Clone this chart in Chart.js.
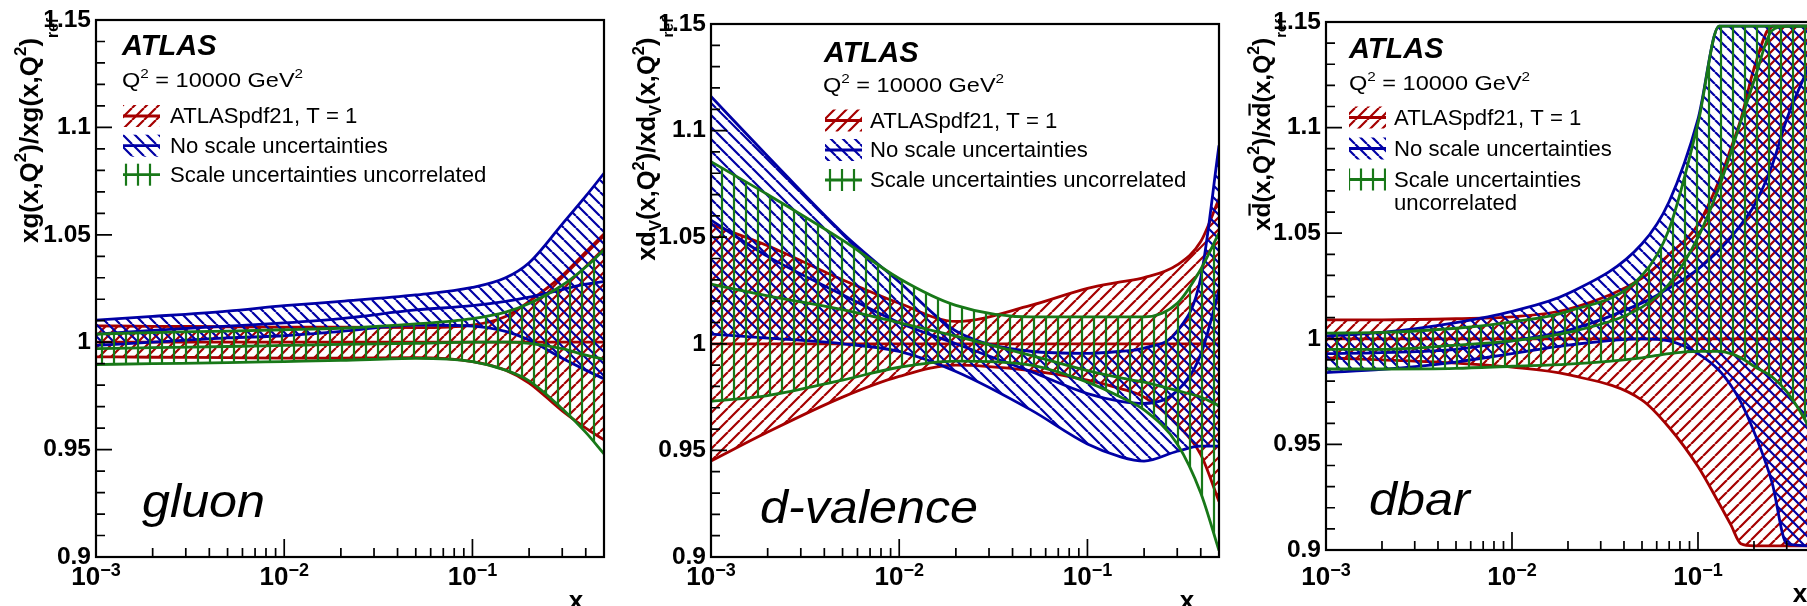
<!DOCTYPE html>
<html>
<head>
<meta charset="utf-8">
<title>ATLASpdf21 scale uncertainties</title>
<script src="https://cdn.jsdelivr.net/npm/chart.js@4.4.1/dist/chart.umd.min.js"></script>
<style>
  html, body { margin: 0; padding: 0; background: #fff; }
  body { position: relative; width: 1807px; height: 606px; overflow: hidden; }
  canvas { position: absolute; top: 0; }
</style>
</head>
<body>
<canvas id="gluon" width="640" height="606" style="left:0px"></canvas>
<canvas id="dval" width="620" height="606" style="left:620px"></canvas>
<canvas id="dbar" width="600" height="606" style="left:1235px"></canvas>
<script>
// x grids (log scale)
const xGrid = [0.001, 0.002, 0.005, 0.01, 0.02, 0.05, 0.1, 0.15, 0.2, 0.3, 0.4, 0.5];
const xGridDbar = [0.001, 0.002, 0.005, 0.01, 0.02, 0.05, 0.07, 0.1, 0.13, 0.15, 0.17, 0.2, 0.25, 0.3, 0.4, 0.5];

// gluon: ratio to reference
const gluonPdfUp      = [1.0076, 1.0074, 1.0072, 1.0070, 1.0070, 1.0068, 1.0080, 1.0120, 1.0190, 1.0310, 1.0420, 1.0504];
const gluonPdfCen     = [1, 1, 1, 1, 1, 1, 1, 1, 1, 1, 1, 1];
const gluonPdfDn      = [0.9932, 0.9930, 0.9928, 0.9926, 0.9926, 0.9928, 0.9910, 0.9870, 0.9810, 0.9680, 0.9600, 0.9545];
const gluonNoScaleUp  = [1.0103, 1.0120, 1.0145, 1.0170, 1.0190, 1.0220, 1.0255, 1.0300, 1.0370, 1.0550, 1.0680, 1.0786];
const gluonNoScaleCen = [1.0038, 1.0055, 1.0075, 1.0090, 1.0110, 1.0150, 1.0170, 1.0190, 1.0210, 1.0245, 1.0270, 1.0282];
const gluonNoScaleDn  = [0.9985, 1.0000, 1.0020, 1.0030, 1.0050, 1.0080, 1.0075, 1.0050, 1.0010, 0.9925, 0.9870, 0.9830];
const gluonUncorrUp   = [1.0038, 1.0045, 1.0052, 1.0058, 1.0065, 1.0085, 1.0110, 1.0140, 1.0180, 1.0265, 1.0350, 1.0430];
const gluonUncorrCen  = [0.9970, 0.9975, 0.9980, 0.9985, 0.9990, 0.9995, 1.0000, 1.0000, 0.9995, 0.9970, 0.9940, 0.9920];
const gluonUncorrDn   = [0.9896, 0.9900, 0.9905, 0.9910, 0.9915, 0.9925, 0.9910, 0.9870, 0.9820, 0.9690, 0.9580, 0.9480];

// d-valence
const dvPdfUp      = [1.056, 1.046, 1.030, 1.019, 1.0105, 1.018, 1.026, 1.029, 1.031, 1.037, 1.048, 1.068];
const dvPdfCen     = [1, 1, 1, 1, 1, 1, 1, 1, 1, 1, 1, 1];
const dvPdfDn      = [0.945, 0.9586, 0.975, 0.9847, 0.990, 0.9874, 0.983, 0.979, 0.975, 0.962, 0.948, 0.926];
const dvNoScaleUp  = [1.116, 1.088, 1.052, 1.029, 1.006, 0.9965, 0.9955, 0.9965, 0.998, 1.006, 1.031, 1.093];
const dvNoScaleCen = [1.058, 1.041, 1.023, 1.0099, 1.000, 0.987, 0.9766, 0.973, 0.972, 0.978, 0.995, 1.025];
const dvNoScaleDn  = [1.0045, 1.0027, 1.000, 0.9964, 0.987, 0.969, 0.953, 0.947, 0.945, 0.9496, 0.952, 0.952];
const dvUncorrUp   = [1.0854, 1.070, 1.0486, 1.0306, 1.018, 1.0126, 1.0126, 1.0126, 1.0126, 1.019, 1.035, 1.052];
const dvUncorrCen  = [1.028, 1.0225, 1.016, 1.0099, 1.0036, 0.9946, 0.9874, 0.984, 0.982, 0.978, 0.975, 0.971];
const dvUncorrDn   = [0.973, 0.9757, 0.983, 0.989, 0.9919, 0.990, 0.982, 0.975, 0.969, 0.953, 0.930, 0.903];

// dbar (bands are cut at the frame in the original)
const dbPdfUp      = [1.009, 1.009, 1.0095, 1.0104, 1.014, 1.0287, 1.040, 1.054, 1.075, 1.090, 1.104, 1.128, 1.148, 1.148, 1.148, 1.148];
const dbPdfCen     = [1, 1, 1, 1, 1, 1, 1, 1, 1, 1, 1, 1, 1, 1, 1, 1];
const dbPdfDn      = [0.991, 0.990, 0.9885, 0.9866, 0.983, 0.971, 0.958, 0.9395, 0.922, 0.912, 0.903, 0.902, 0.902, 0.902, 0.902, 0.902];
const dbNoScaleUp  = [1.0013, 1.003, 1.0077, 1.013, 1.0214, 1.045, 1.065, 1.104, 1.148, 1.148, 1.148, 1.148, 1.148, 1.148, 1.148, 1.148];
const dbNoScaleCen = [0.993, 0.9935, 0.995, 0.999, 1.004, 1.017, 1.024, 1.033, 1.042, 1.048, 1.054, 1.063, 1.082, 1.104, 1.130, 1.148];
const dbNoScaleDn  = [0.984, 0.9855, 0.989, 0.993, 0.997, 1.000, 0.999, 0.993, 0.985, 0.978, 0.970, 0.956, 0.932, 0.903, 0.902, 0.902];
const dbUncorrUp   = [1.0027, 1.003, 1.005, 1.008, 1.013, 1.030, 1.052, 1.102, 1.148, 1.148, 1.148, 1.148, 1.148, 1.148, 1.148, 1.148];
const dbUncorrCen  = [0.995, 0.995, 0.997, 0.999, 1.003, 1.015, 1.026, 1.048, 1.072, 1.088, 1.103, 1.122, 1.146, 1.148, 1.148, 1.148];
const dbUncorrDn   = [0.9857, 0.9857, 0.986, 0.987, 0.988, 0.991, 0.993, 0.994, 0.994, 0.993, 0.991, 0.987, 0.982, 0.975, 0.957, 0.935];

// axes
const yTicks = [0.9, 0.95, 1, 1.05, 1.1, 1.15];
const yTickLabels = ['0.9', '0.95', '1', '1.05', '1.1', '1.15'];
const xDecades = [0.001, 0.01, 0.1];
const xDecadeExps = ['\u22123', '\u22122', '\u22121'];
const legendLabels = ['ATLASpdf21, T = 1', 'No scale uncertainties', 'Scale uncertainties uncorrelated'];

const FONT = '"Liberation Sans", Arial, Helvetica, sans-serif';
const RED = '#a50000', BLUE = '#0000a5', GREEN = '#187818';

// ROOT-like hatch fill
function hatch(ctx, color, kind) {
  const s = 12;
  const tile = document.createElement('canvas');
  tile.width = s; tile.height = s;
  const g = tile.getContext('2d');
  g.strokeStyle = color;
  g.lineWidth = 2.2;
  g.beginPath();
  if (kind === '|') {
    g.moveTo(s / 2, 0); g.lineTo(s / 2, s);
  } else {
    for (let k = -1; k <= 1; k++) {
      if (kind === '/') { g.moveTo(k * s, s); g.lineTo(k * s + s, 0); }
      else { g.moveTo(k * s, 0); g.lineTo(k * s + s, s); }
    }
  }
  g.stroke();
  return ctx.createPattern(tile, 'repeat');
}

function band(xs, up, cen, dn, color, pattern, order) {
  const pts = arr => xs.map((x, i) => ({ x: x, y: arr[i] }));
  const base = { borderColor: color, borderWidth: 2.8, pointRadius: 0, cubicInterpolationMode: 'monotone', order: order };
  return [
    Object.assign({}, base, { data: pts(up), fill: '+2', backgroundColor: pattern }),
    Object.assign({}, base, { data: pts(cen), fill: false }),
    Object.assign({}, base, { data: pts(dn), fill: false })
  ];
}

// text with super/subscripts: parts = [[text, kind, dy]]
function richText(ctx, parts, size, weight, draw) {
  let cx = 0;
  for (const p of parts) {
    const kind = p[1] || '';
    let s = size, dy = 0;
    if (kind === 'sup') { s = size * 0.65; dy = -size * 0.45; }
    else if (kind === 'sub') { s = size * 0.6; dy = p[2]; }
    else if (kind === 'low') { s = size * 0.65; dy = size * 0.22; }
    ctx.font = weight + ' ' + s + 'px ' + FONT;
    const w = ctx.measureText(p[0]).width;
    if (draw) {
      ctx.fillText(p[0], cx, dy);
      if (kind === 'bar') ctx.fillRect(cx + w * 0.12, -size * 0.88, w * 0.8, 2.2);
    }
    cx += w;
  }
  return cx;
}

function stretched(ctx, str, x, y, font, sx) {
  ctx.save();
  ctx.translate(x, y);
  ctx.scale(sx, 1);
  ctx.font = font;
  ctx.fillText(str, 0, 0);
  ctx.restore();
}

function overlay(p, pats) {
  return {
    id: 'rootStyle' + p.id,
    afterDatasetsDraw(chart) {
      const ctx = chart.ctx, a = chart.chartArea, xs = chart.scales.x, ys = chart.scales.y;
      const L = p.left;
      ctx.save();
      ctx.strokeStyle = '#000';
      ctx.fillStyle = '#000';
      ctx.lineWidth = 2.2;
      ctx.strokeRect(a.left, a.top, a.right - a.left, a.bottom - a.top);

      // inward ticks
      ctx.lineWidth = 1.7;
      ctx.beginPath();
      for (let i = 0; i <= 25; i++) {
        const py = ys.getPixelForValue(0.9 + i * 0.01);
        ctx.moveTo(a.left, py);
        ctx.lineTo(a.left + (i % 5 === 0 ? 16 : 9), py);
      }
      for (const d of xDecades) {
        for (let k = 1; k <= 9; k++) {
          const v = d * k;
          if (v > 0.4999) break;
          const px = xs.getPixelForValue(v);
          ctx.moveTo(px, a.bottom);
          ctx.lineTo(px, a.bottom - (k === 1 ? 18 : 9));
        }
      }
      ctx.stroke();

      // x tick labels 10^-n
      ctx.textBaseline = 'alphabetic';
      xDecades.forEach((d, i) => {
        const px = xs.getPixelForValue(d);
        ctx.font = 'bold 26px ' + FONT;
        const w1 = ctx.measureText('10').width;
        ctx.font = 'bold 18px ' + FONT;
        const w2 = ctx.measureText(xDecadeExps[i]).width;
        const x0 = px - (w1 + w2) / 2;
        ctx.font = 'bold 26px ' + FONT;
        ctx.fillText('10', x0, 585);
        ctx.font = 'bold 18px ' + FONT;
        ctx.fillText(xDecadeExps[i], x0 + w1, 576);
      });

      // axis titles
      ctx.font = 'bold 26px ' + FONT;
      ctx.textAlign = 'center';
      ctx.fillText('x', p.xLabel[0] - L, p.xLabel[1]);
      ctx.textAlign = 'left';
      ctx.save();
      ctx.translate(p.titleAt[0] - L, p.titleAt[1]);
      ctx.rotate(-Math.PI / 2);
      const tw = richText(ctx, p.title, p.titleSize, 'bold', false);
      ctx.translate(-tw, 0);
      richText(ctx, p.title, p.titleSize, 'bold', true);
      ctx.restore();

      // labels
      stretched(ctx, 'ATLAS', p.atlas[0] - L, p.atlas[1], 'italic bold 29px ' + FONT, 1.0);
      ctx.save();
      ctx.translate(p.q2[0] - L, p.q2[1]);
      ctx.scale(1.12, 1);
      richText(ctx, [['Q'], ['2', 'sup'], [' = 10000 GeV'], ['2', 'sup']], 21, 'normal', true);
      ctx.restore();

      // legend
      const styles = [[RED, pats.red], [BLUE, pats.blue], [GREEN, pats.green]];
      p.legRows.forEach((yb, i) => {
        const sx0 = p.legX - L;
        ctx.fillStyle = styles[i][1];
        ctx.fillRect(sx0, yb - 18, 37, 22);
        ctx.strokeStyle = styles[i][0];
        ctx.lineWidth = 2.8;
        ctx.beginPath();
        ctx.moveTo(sx0, yb - 7);
        ctx.lineTo(sx0 + 37, yb - 7);
        ctx.stroke();
        ctx.fillStyle = '#000';
        stretched(ctx, p.legText[i], p.legTextX - L, yb, '21.5px ' + FONT, 1.03);
      });
      if (p.legExtra) stretched(ctx, p.legExtra[0], p.legTextX - L, p.legExtra[1], '21.5px ' + FONT, 1.03);

      stretched(ctx, p.name, p.nameAt[0] - L, p.nameAt[1], 'italic 47px ' + FONT, 1.07);
      ctx.restore();
    }
  };
}

function makeChart(p) {
  const canvas = document.getElementById(p.id);
  const ctx = canvas.getContext('2d');
  const pats = { red: hatch(ctx, RED, '/'), blue: hatch(ctx, BLUE, '\\'), green: hatch(ctx, GREEN, '|') };
  const datasets = [].concat(
    band(p.x, p.pdf[0], p.pdf[1], p.pdf[2], RED, pats.red, 3),
    band(p.x, p.noScale[0], p.noScale[1], p.noScale[2], BLUE, pats.blue, 2),
    band(p.x, p.uncorr[0], p.uncorr[1], p.uncorr[2], GREEN, pats.green, 1)
  );
  return new Chart(ctx, {
    type: 'line',
    data: { datasets: datasets },
    options: {
      responsive: false,
      animation: false,
      devicePixelRatio: 1,
      layout: { padding: { left: 0, right: p.left + canvas.width - p.area.r, top: p.area.t, bottom: 0 } },
      plugins: { legend: { display: false }, tooltip: { enabled: false } },
      scales: {
        x: {
          type: 'logarithmic', min: 0.001, max: 0.5, bounds: 'data',
          grid: { display: false, drawTicks: false }, border: { display: false },
          ticks: { display: false },
          afterBuildTicks: s => { s.ticks = xDecades.map(v => ({ value: v })); },
          afterFit: s => { s.height = 606 - p.area.b; }
        },
        y: {
          min: 0.9, max: 1.15, bounds: 'data',
          grid: { display: false, drawTicks: false }, border: { display: false },
          ticks: { color: '#000', padding: 5, font: { family: FONT, size: 24.5, weight: 'bold' },
                   callback: (v, i) => yTickLabels[i] },
          afterBuildTicks: s => { s.ticks = yTicks.map(v => ({ value: v })); },
          afterFit: s => { s.width = p.area.l - p.left; }
        }
      }
    },
    plugins: [overlay(p, pats)]
  });
}

const panels = [
  {
    id: 'gluon', left: 0, area: { l: 96, r: 604, t: 20, b: 557 }, x: xGrid,
    pdf: [gluonPdfUp, gluonPdfCen, gluonPdfDn],
    noScale: [gluonNoScaleUp, gluonNoScaleCen, gluonNoScaleDn],
    uncorr: [gluonUncorrUp, gluonUncorrCen, gluonUncorrDn],
    title: [['xg(x,Q'], ['2', 'sup'], [')/xg(x,Q'], ['2', 'sup'], [')'], ['ref', 'sub', 20]],
    titleSize: 26, titleAt: [38, 18],
    atlas: [122, 55], q2: [122, 87],
    legX: 123, legTextX: 170, legRows: [123, 152.7, 181.7], legText: legendLabels,
    name: 'gluon', nameAt: [142, 517], xLabel: [576, 609]
  },
  {
    id: 'dval', left: 620, area: { l: 711, r: 1219, t: 24, b: 557 }, x: xGrid,
    pdf: [dvPdfUp, dvPdfCen, dvPdfDn],
    noScale: [dvNoScaleUp, dvNoScaleCen, dvNoScaleDn],
    uncorr: [dvUncorrUp, dvUncorrCen, dvUncorrDn],
    title: [['xd'], ['V', 'low'], ['(x,Q'], ['2', 'sup'], [')/xd'], ['V', 'low'], ['(x,Q'], ['2', 'sup'], [')'], ['ref', 'sub', 18]],
    titleSize: 25.5, titleAt: [655, 18],
    atlas: [824, 62], q2: [823, 92],
    legX: 825, legTextX: 870, legRows: [127.5, 157, 187], legText: legendLabels,
    name: 'd-valence', nameAt: [760, 523], xLabel: [1187, 609]
  },
  {
    id: 'dbar', left: 1235, area: { l: 1326, r: 1828, t: 22, b: 550 }, x: xGridDbar,
    pdf: [dbPdfUp, dbPdfCen, dbPdfDn],
    noScale: [dbNoScaleUp, dbNoScaleCen, dbNoScaleDn],
    uncorr: [dbUncorrUp, dbUncorrCen, dbUncorrDn],
    title: [['x'], ['d', 'bar'], ['(x,Q'], ['2', 'sup'], [')/x'], ['d', 'bar'], ['(x,Q'], ['2', 'sup'], [')'], ['ref', 'sub', 16]],
    titleSize: 24.5, titleAt: [1270, 19],
    atlas: [1349, 58], q2: [1349, 90],
    legX: 1349, legTextX: 1394, legRows: [124.5, 155.5, 186.5],
    legText: ['ATLASpdf21, T = 1', 'No scale uncertainties', 'Scale uncertainties'],
    legExtra: ['uncorrelated', 210],
    name: 'dbar', nameAt: [1369, 515], xLabel: [1800, 602]
  }
];

panels.forEach(makeChart);
</script>
</body>
</html>
